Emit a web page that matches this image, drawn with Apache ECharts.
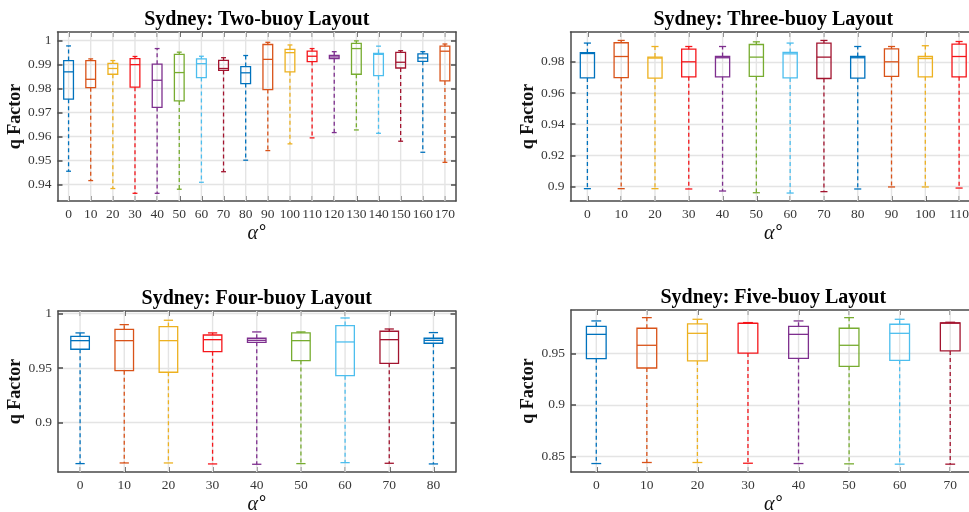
<!DOCTYPE html>
<html>
<head>
<meta charset="utf-8">
<script src="https://cdn.jsdelivr.net/npm/echarts@6/dist/echarts.min.js"></script>
<style>
  html, body { margin: 0; padding: 0; background: #ffffff; }
  #chart { width: 969px; height: 512px; }
</style>
</head>
<body>
<div id="chart"></div>
<script>
// Wave direction angles (degrees) for each buoy layout
const twoBuoyAngles   = [0, 10, 20, 30, 40, 50, 60, 70, 80, 90, 100, 110, 120, 130, 140, 150, 160, 170];
const threeBuoyAngles = [0, 10, 20, 30, 40, 50, 60, 70, 80, 90, 100, 110];
const fourBuoyAngles  = [0, 10, 20, 30, 40, 50, 60, 70, 80];
const fiveBuoyAngles  = [0, 10, 20, 30, 40, 50, 60, 70];

// q factor summaries per angle: [min, Q1, median, Q3, max]
const twoBuoyStats = [
  [0.9456, 0.9756, 0.9870, 0.9917, 0.9978],
  [0.9417, 0.9804, 0.9839, 0.9917, 0.9924],
  [0.9384, 0.9860, 0.9884, 0.9905, 0.9917],
  [0.9364, 0.9806, 0.9900, 0.9925, 0.9934],
  [0.9364, 0.9722, 0.9835, 0.9902, 0.9967],
  [0.9381, 0.9749, 0.9867, 0.9943, 0.9952],
  [0.9410, 0.9846, 0.9904, 0.9924, 0.9935],
  [0.9454, 0.9876, 0.9884, 0.9918, 0.9929],
  [0.9502, 0.9821, 0.9866, 0.9892, 0.9938],
  [0.9542, 0.9796, 0.9922, 0.9984, 0.9993],
  [0.9570, 0.9870, 0.9950, 0.9964, 0.9982],
  [0.9595, 0.9913, 0.9935, 0.9956, 0.9967],
  [0.9617, 0.9925, 0.9932, 0.9939, 0.9954],
  [0.9628, 0.9860, 0.9967, 0.9989, 0.9999],
  [0.9614, 0.9854, 0.9943, 0.9947, 0.9977],
  [0.9581, 0.9886, 0.9910, 0.9951, 0.9958],
  [0.9535, 0.9914, 0.9928, 0.9945, 0.9954],
  [0.9493, 0.9832, 0.9956, 0.9977, 0.9986]
];
const threeBuoyStats = [
  [0.8987, 0.9697, 0.9853, 0.9858, 0.9920],
  [0.8987, 0.9699, 0.9834, 0.9922, 0.9937],
  [0.8987, 0.9695, 0.9824, 0.9830, 0.9898],
  [0.8985, 0.9704, 0.9800, 0.9881, 0.9898],
  [0.8972, 0.9704, 0.9826, 0.9834, 0.9898],
  [0.8961, 0.9706, 0.9830, 0.9911, 0.9928],
  [0.8959, 0.9697, 0.9851, 0.9860, 0.9920],
  [0.8968, 0.9693, 0.9830, 0.9920, 0.9937],
  [0.8985, 0.9695, 0.9826, 0.9834, 0.9898],
  [0.8998, 0.9706, 0.9800, 0.9883, 0.9898],
  [0.8998, 0.9704, 0.9821, 0.9834, 0.9903],
  [0.8991, 0.9704, 0.9834, 0.9913, 0.9930]
];
const fourBuoyStats = [
  [0.8624, 0.9673, 0.9752, 0.9792, 0.9823],
  [0.8630, 0.9477, 0.9752, 0.9856, 0.9899],
  [0.8630, 0.9462, 0.9752, 0.9881, 0.9939],
  [0.8621, 0.9651, 0.9761, 0.9804, 0.9823],
  [0.8618, 0.9737, 0.9755, 0.9774, 0.9832],
  [0.8624, 0.9569, 0.9752, 0.9823, 0.9832],
  [0.8633, 0.9431, 0.9740, 0.9890, 0.9960],
  [0.8627, 0.9544, 0.9761, 0.9838, 0.9859],
  [0.8621, 0.9728, 0.9755, 0.9774, 0.9826]
];
const fiveBuoyStats = [
  [0.8432, 0.9448, 0.9684, 0.9762, 0.9814],
  [0.8442, 0.9358, 0.9578, 0.9743, 0.9846],
  [0.8442, 0.9426, 0.9694, 0.9785, 0.9830],
  [0.8435, 0.9503, 0.9791, 0.9791, 0.9798],
  [0.8432, 0.9451, 0.9684, 0.9762, 0.9814],
  [0.8429, 0.9374, 0.9578, 0.9743, 0.9846],
  [0.8426, 0.9432, 0.9694, 0.9782, 0.9830],
  [0.8426, 0.9523, 0.9794, 0.9794, 0.9801]
];

// Y tick values for each layout
const twoBuoyTicks   = [0.94, 0.95, 0.96, 0.97, 0.98, 0.99, 1];
const threeBuoyTicks = [0.9, 0.92, 0.94, 0.96, 0.98];
const fourBuoyTicks  = [0.9, 0.95, 1];
const fiveBuoyTicks  = [0.85, 0.9, 0.95];

// Repeating box colour order
const boxColors = ['#0072BD', '#D95319', '#EDB120', '#F5161B', '#7E2F8E', '#77AC30', '#4DBEEE', '#A2142F'];

const SERIF = "'Liberation Serif', 'Times New Roman', serif";
const FRAME = { color: '#4a4a4a', width: 1.5 };
const GRIDLINE = { color: '#e4e4e4', width: 1.4 };

const panels = [
  { title: 'Sydney: Two-buoy Layout',   angles: twoBuoyAngles,   stats: twoBuoyStats,   ticks: twoBuoyTicks,
    yMin: 0.9332, yMax: 1.0036, rect: { left: 57.5, top: 32, width: 398.5, height: 169 }, box: 0.44 },
  { title: 'Sydney: Three-buoy Layout', angles: threeBuoyAngles, stats: threeBuoyStats, ticks: threeBuoyTicks,
    yMin: 0.8908, yMax: 0.9991, rect: { left: 570.5, top: 32, width: 405.5, height: 169 }, box: 0.42 },
  { title: 'Sydney: Four-buoy Layout',  angles: fourBuoyAngles,  stats: fourBuoyStats,  ticks: fourBuoyTicks,
    yMin: 0.8547, yMax: 1.0024, rect: { left: 58, top: 311, width: 397.5, height: 161 }, box: 0.42 },
  { title: 'Sydney: Five-buoy Layout',  angles: fiveBuoyAngles,  stats: fiveBuoyStats,  ticks: fiveBuoyTicks,
    yMin: 0.835, yMax: 0.992, rect: { left: 571, top: 310, width: 404.5, height: 162 }, box: 0.39 }
];

const fmt = v => String(+Number(v).toFixed(4));

function makeRenderer(boxRatio) {
  return function (params, api) {
    const i = api.value(0);
    const py = k => api.coord([i, api.value(k)])[1];
    const cx = api.coord([i, api.value(3)])[0];
    const yLo = py(1), yQ1 = py(2), yMed = py(3), yQ3 = py(4), yHi = py(5);
    const band = api.size([1, 0])[0];
    const half = band * boxRatio / 2;
    const capHalf = half / 2;
    const cs = params.coordSys;
    const color = boxColors[i % boxColors.length];
    const solid = { stroke: color, lineWidth: 1.3, fill: null };
    const dashed = { stroke: color, lineWidth: 1.3, lineDash: [4, 3], fill: null };
    return {
      type: 'group',
      children: [
        { type: 'line', z2: 0, shape: { x1: cx, y1: cs.y, x2: cx, y2: cs.y + cs.height },
          style: { stroke: GRIDLINE.color, lineWidth: GRIDLINE.width } },
        { type: 'line', z2: 1, shape: { x1: cx, y1: yQ3, x2: cx, y2: yHi }, style: dashed },
        { type: 'line', z2: 1, shape: { x1: cx, y1: yQ1, x2: cx, y2: yLo }, style: dashed },
        { type: 'line', z2: 2, shape: { x1: cx - capHalf, y1: yHi, x2: cx + capHalf, y2: yHi }, style: solid },
        { type: 'line', z2: 2, shape: { x1: cx - capHalf, y1: yLo, x2: cx + capHalf, y2: yLo }, style: solid },
        { type: 'rect', z2: 2, shape: { x: cx - half, y: yQ3, width: 2 * half, height: yQ1 - yQ3 },
          style: { stroke: color, lineWidth: 1.3, fill: 'rgba(255,255,255,0)' } },
        { type: 'line', z2: 3, shape: { x1: cx - half, y1: yMed, x2: cx + half, y2: yMed }, style: solid }
      ]
    };
  };
}

const option = {
  animation: false,
  backgroundColor: '#ffffff',
  title: [], grid: [], xAxis: [], yAxis: [], series: []
};

panels.forEach((p, k) => {
  const r = p.rect;
  option.title.push({
    text: p.title,
    left: r.left + r.width / 2,
    top: r.top - 22,
    textAlign: 'center',
    padding: 0,
    textStyle: { fontFamily: SERIF, fontWeight: 'bold', fontSize: 20, color: '#000' }
  });
  option.grid.push({
    left: r.left, top: r.top, width: r.width, height: r.height,
    containLabel: false, outerBoundsMode: 'none'
  });

  const labelStyle = { fontFamily: SERIF, fontSize: 13.5, color: '#383838' };
  // bottom category axis
  option.xAxis.push({
    gridIndex: k, type: 'category', data: p.angles, boundaryGap: true,
    axisLine: { show: true, lineStyle: FRAME },
    axisTick: { show: true, inside: true, alignWithLabel: true, length: 5, lineStyle: FRAME },
    axisLabel: Object.assign({ margin: 6, interval: 0, hideOverlap: false }, labelStyle),
    splitLine: { show: false },
    name: '{a|α}{d|°}', nameLocation: 'middle', nameGap: 22,
    nameTextStyle: {
      rich: {
        a: { fontFamily: SERIF, fontStyle: 'italic', fontSize: 20, color: '#111' },
        d: { fontFamily: SERIF, fontWeight: 'bold', fontSize: 18, color: '#111', padding: [0, 0, 4, 1] }
      }
    }
  });
  // top frame edge with inward ticks
  option.xAxis.push({
    gridIndex: k, type: 'category', data: p.angles, boundaryGap: true, position: 'top',
    axisLine: { show: true, lineStyle: FRAME },
    axisTick: { show: true, inside: true, alignWithLabel: true, interval: 0, length: 5, lineStyle: FRAME },
    axisLabel: { show: false }, splitLine: { show: false }
  });
  // left value axis
  option.yAxis.push({
    gridIndex: k, type: 'value', min: p.yMin, max: p.yMax,
    axisLine: { show: true, lineStyle: FRAME },
    axisTick: { show: true, inside: true, length: 5, lineStyle: FRAME, customValues: p.ticks },
    axisLabel: Object.assign({ margin: 6, customValues: p.ticks, formatter: fmt }, labelStyle),
    splitLine: { show: true, lineStyle: GRIDLINE },
    name: 'q Factor', nameLocation: 'middle', nameGap: 27, nameRotate: 90,
    nameTextStyle: { fontFamily: SERIF, fontWeight: 'bold', fontSize: 18, color: '#111' }
  });
  // right frame edge with inward ticks
  option.yAxis.push({
    gridIndex: k, type: 'value', min: p.yMin, max: p.yMax, position: 'right',
    axisLine: { show: true, lineStyle: FRAME },
    axisTick: { show: true, inside: true, length: 5, lineStyle: FRAME, customValues: p.ticks },
    axisLabel: { show: false }, splitLine: { show: false }
  });

  option.series.push({
    type: 'custom',
    name: p.title,
    xAxisIndex: 2 * k,
    yAxisIndex: 2 * k,
    renderItem: makeRenderer(p.box),
    encode: { x: 0, y: [1, 2, 3, 4, 5] },
    data: p.stats.map((s, i) => [i].concat(s)),
    clip: false
  });
});

const chart = echarts.init(document.getElementById('chart'), null, { renderer: 'canvas' });
chart.setOption(option);
</script>
</body>
</html>
